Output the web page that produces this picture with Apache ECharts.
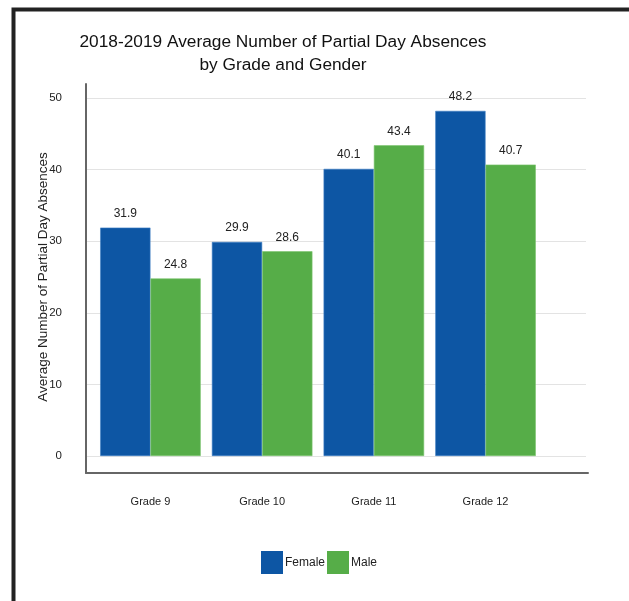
<!DOCTYPE html>
<html><head><meta charset="utf-8">
<script src="https://cdn.jsdelivr.net/npm/echarts@6/dist/echarts.min.js"></script>
<style>html,body{margin:0;padding:0;background:#fff}#c{width:629px;height:601px}</style>
</head><body><div id="c"></div>
<script>
const categories = ['Grade 9', 'Grade 10', 'Grade 11', 'Grade 12'];
const female = [31.9, 29.9, 40.1, 48.2];
const male = [24.8, 28.6, 43.4, 40.7];
const seriesNames = ['Female', 'Male'];
const titleLines = ['2018-2019 Average Number of Partial Day Absences', 'by Grade and Gender'];
const yTitle = 'Average Number of Partial Day Absences';

const font = 'Liberation Sans, Arial, sans-serif';
const chart = echarts.init(document.getElementById('c'), null, {renderer: 'canvas'});
chart.setOption({
  backgroundColor: '#fff',
  animation: false,
  title: {
    text: titleLines.join('\n'), left: 278, top: 26, textAlign: 'center',
    textStyle: {fontFamily: font, fontSize: 17.3, fontWeight: 'normal', color: '#111', lineHeight: 23}
  },
  legend: {
    data: seriesNames, left: 261, top: 551, padding: 0, itemWidth: 22, itemHeight: 23, itemGap: 2,
    icon: 'rect', itemStyle: {borderWidth: 0},
    textStyle: {fontFamily: font, fontSize: 12, color: '#222', padding: [0, 0, 0, -3]}
  },
  grid: [
    {left: 86, right: 43, top: 98, bottom: 145},
    {left: 94.6, right: 87.6, top: 98, bottom: 145},
    {left: 86, right: 41, top: 84, bottom: 128}
  ],
  xAxis: [
    {gridIndex: 0, type: 'category', data: categories, show: false},
    {gridIndex: 1, type: 'category', data: categories,
     axisLine: {show: false}, axisTick: {show: false},
     axisLabel: {margin: 40, fontFamily: font, fontSize: 11, color: '#222'}},
    {gridIndex: 2, type: 'category', data: categories,
     axisLine: {show: true, lineStyle: {color: '#666', width: 2}}, axisTick: {show: false}, axisLabel: {show: false}}
  ],
  yAxis: [
    {gridIndex: 0, type: 'value', min: 0, max: 50, interval: 10,
     axisLine: {show: false}, axisTick: {show: false},
     axisLabel: {margin: 24, fontFamily: font, fontSize: 11.5, color: '#222'},
     splitLine: {lineStyle: {color: '#e3e3e3', width: 1}},
     name: yTitle, nameLocation: 'middle', nameGap: 36, nameMoveOverlap: false,
     nameTextStyle: {fontFamily: font, fontSize: 13.5, color: '#222'}},
    {gridIndex: 1, type: 'value', min: 0, max: 50, interval: 10, show: false},
    {gridIndex: 2, type: 'value', min: 0, max: 10, interval: 10,
     axisLine: {show: true, lineStyle: {color: '#666', width: 2}}, axisTick: {show: false},
     axisLabel: {show: false}, splitLine: {show: false}}
  ],
  series: [
    {name: seriesNames[0], type: 'bar', xAxisIndex: 1, yAxisIndex: 1, data: female,
     barGap: '0%', barCategoryGap: '10%',
     itemStyle: {color: '#0D56A4', borderColor: '#3f7fc4', borderWidth: 0.6},
     label: {show: true, position: 'top', distance: 8, fontFamily: font, fontSize: 12, color: '#222'}},
    {name: seriesNames[1], type: 'bar', xAxisIndex: 1, yAxisIndex: 1, data: male,
     barGap: '0%', barCategoryGap: '10%',
     itemStyle: {color: '#56AD48', borderColor: '#7cc46f', borderWidth: 0.6},
     label: {show: true, position: 'top', distance: 8, fontFamily: font, fontSize: 12, color: '#222'}}
  ],
  graphic: [
    {type: 'rect', left: 11, top: 7, silent: true, z: 100,
     shape: {x: 0, y: 0, width: 700, height: 700},
     style: {fill: 'none', stroke: '#222', lineWidth: 4}}
  ]
});
</script></body></html>
